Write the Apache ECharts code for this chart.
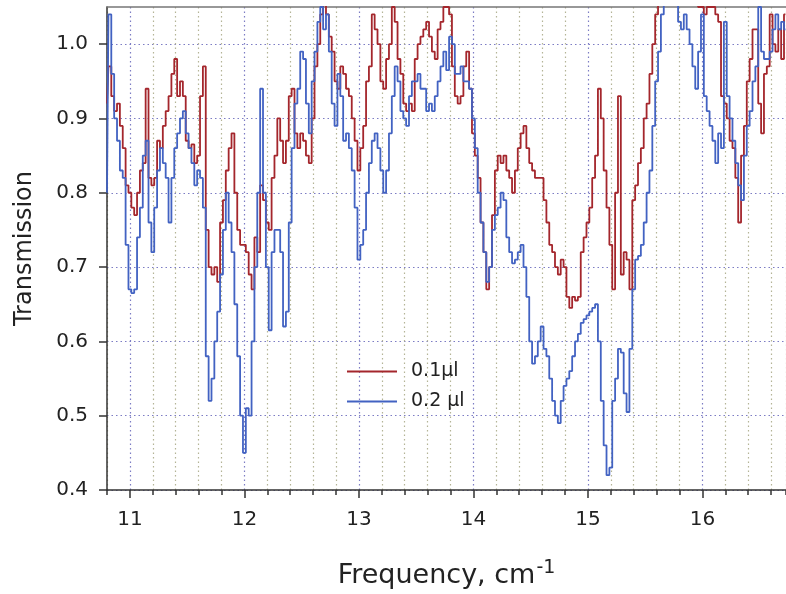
<!DOCTYPE html>
<html>
<head>
<meta charset="utf-8">
<script src="https://cdn.jsdelivr.net/npm/echarts@6/dist/echarts.min.js"></script>
<style>
  html, body { margin: 0; padding: 0; background: #ffffff; }
  #chart { width: 786px; height: 594px; }
</style>
</head>
<body>
<div id="chart"></div>
<script>
// Spectrum sampled every 0.025 cm^-1 starting at 10.8 cm^-1
const freqStart = 10.8;
const freqStep = 0.025;

// Transmission, 0.1 µl sample
const trans01 = [
  0.92, 0.97, 0.93, 0.91, 0.92, 0.89, 0.86, 0.81, 0.80, 0.78,
  0.77, 0.80, 0.83, 0.84, 0.94, 0.82, 0.81, 0.82, 0.87, 0.86,
  0.89, 0.91, 0.93, 0.96, 0.98, 0.93, 0.95, 0.93, 0.87, 0.86,
  0.865, 0.84, 0.85, 0.93, 0.97, 0.75, 0.70, 0.69, 0.70, 0.68,
  0.76, 0.79, 0.83, 0.86, 0.88, 0.80, 0.75, 0.73, 0.73, 0.72,
  0.69, 0.67, 0.74, 0.72, 0.81, 0.79, 0.76, 0.75, 0.82, 0.85,
  0.90, 0.87, 0.84, 0.87, 0.93, 0.94, 0.88, 0.86, 0.88, 0.87,
  0.85, 0.84, 0.90, 0.97, 1.00, 1.04, 1.06, 1.04, 1.01, 0.99,
  0.95, 0.94, 0.97, 0.96, 0.94, 0.93, 0.90, 0.87, 0.83, 0.86,
  0.89, 0.95, 0.97, 1.04, 1.02, 1.00, 0.95, 0.94, 0.98, 1.00,
  1.05, 1.03, 0.98, 0.96, 0.92, 0.91, 0.92, 0.91, 0.98, 1.00,
  1.01, 1.02, 1.03, 1.01, 0.99, 0.98, 1.02, 1.03, 1.05, 1.05,
  1.04, 0.97, 0.93, 0.92, 0.93, 0.97, 0.99, 0.94, 0.88, 0.85,
  0.82, 0.76, 0.72, 0.67, 0.70, 0.77, 0.83, 0.85, 0.84, 0.85,
  0.83, 0.82, 0.80, 0.83, 0.86, 0.88, 0.89, 0.86, 0.84, 0.83,
  0.82, 0.82, 0.82, 0.79, 0.76, 0.73, 0.72, 0.70, 0.69, 0.71,
  0.70, 0.66, 0.645, 0.66, 0.655, 0.66, 0.72, 0.74, 0.76, 0.78,
  0.82, 0.85, 0.94, 0.90, 0.83, 0.78, 0.73, 0.67, 0.80, 0.93,
  0.69, 0.72, 0.71, 0.67, 0.79, 0.81, 0.84, 0.86, 0.90, 0.92,
  0.96, 1.00, 1.04, 1.06, 1.07, 1.08, 1.07, 1.08, 1.07, 1.08,
  1.07, 1.08, 1.07, 1.06, 1.07, 1.06, 1.06, 1.05, 1.05, 1.04,
  1.05, 1.05, 1.05, 1.04, 1.03, 0.93, 0.92, 0.90, 0.87, 0.86,
  0.82, 0.76, 0.85, 0.89, 0.95, 0.98, 1.02, 1.02, 0.92, 0.88,
  0.96, 0.97, 1.04, 1.00, 0.99, 1.02, 0.98, 1.04
];

// Transmission, 0.2 µl sample
const trans02 = [
  0.80, 1.04, 0.96, 0.90, 0.87, 0.83, 0.82, 0.73, 0.67, 0.665,
  0.67, 0.74, 0.78, 0.85, 0.87, 0.76, 0.72, 0.78, 0.83, 0.86,
  0.84, 0.82, 0.76, 0.82, 0.86, 0.88, 0.90, 0.91, 0.88, 0.86,
  0.84, 0.81, 0.83, 0.82, 0.78, 0.58, 0.52, 0.55, 0.60, 0.64,
  0.69, 0.75, 0.80, 0.76, 0.72, 0.65, 0.58, 0.50, 0.45, 0.51,
  0.50, 0.60, 0.70, 0.80, 0.94, 0.80, 0.70, 0.615, 0.72, 0.75,
  0.75, 0.72, 0.62, 0.64, 0.76, 0.86, 0.92, 0.94, 0.99, 0.98,
  0.92, 0.88, 0.95, 0.99, 1.03, 1.05, 1.02, 1.04, 0.99, 0.92,
  0.89, 0.96, 0.93, 0.87, 0.88, 0.86, 0.83, 0.78, 0.71, 0.73,
  0.75, 0.80, 0.84, 0.87, 0.88, 0.86, 0.83, 0.80, 0.83, 0.88,
  0.93, 0.97, 0.95, 0.91, 0.90, 0.89, 0.93, 0.95, 0.95, 0.96,
  0.94, 0.94, 0.91, 0.92, 0.91, 0.93, 0.95, 0.97, 0.99, 0.965,
  1.01, 1.00, 0.96, 0.96, 0.97, 0.95, 0.95, 0.94, 0.90, 0.86,
  0.80, 0.76, 0.72, 0.68, 0.70, 0.75, 0.77, 0.78, 0.80, 0.79,
  0.74, 0.72, 0.705, 0.71, 0.72, 0.73, 0.70, 0.66, 0.60, 0.57,
  0.58, 0.60, 0.62, 0.59, 0.58, 0.55, 0.52, 0.50, 0.49, 0.52,
  0.54, 0.55, 0.56, 0.58, 0.60, 0.61, 0.625, 0.63, 0.635, 0.64,
  0.645, 0.65, 0.60, 0.52, 0.46, 0.42, 0.43, 0.52, 0.55, 0.59,
  0.585, 0.53, 0.505, 0.59, 0.67, 0.71, 0.715, 0.73, 0.76, 0.80,
  0.83, 0.89, 0.95, 0.99, 1.04, 1.06, 1.07, 1.07, 1.06, 1.06,
  1.03, 1.02, 1.04, 1.02, 1.00, 0.97, 0.94, 0.99, 1.04, 0.93,
  0.91, 0.89, 0.87, 0.84, 0.88, 0.86, 1.03, 0.93, 0.90, 0.87,
  0.84, 0.81, 0.79, 0.85, 0.89, 0.91, 0.95, 0.97, 1.05, 0.99,
  0.98, 0.98, 0.99, 1.02, 1.04, 1.02, 1.03, 1.02
];

// Axis labels
const xTickLabels = [11, 12, 13, 14, 15, 16];
const yTickLabels = [0.4, 0.5, 0.6, 0.7, 0.8, 0.9, 1.0];
const seriesNames = ['0.1\u00b5l', '0.2 \u00b5l'];

function toPairs(values) {
  return values.map(function (v, i) {
    return [+(freqStart + i * freqStep).toFixed(3), v];
  });
}

const FONT = 'DejaVu Sans';
const TEXT = '#222222';
const AXIS = '#333333';
const GRID_MAJOR = '#7c7cc4';
const GRID_MINOR = '#b4b496';
const xMin = 10.8, xMax = 16.73;

const chart = echarts.init(document.getElementById('chart'), null, { renderer: 'canvas' });

chart.setOption({
  animation: false,
  backgroundColor: '#ffffff',
  grid: { left: 107, right: 0, top: 7, bottom: 104, containLabel: false },
  legend: {
    data: seriesNames,
    orient: 'vertical',
    left: 342,
    top: 357,
    icon: 'rect',
    itemWidth: 50,
    itemHeight: 2,
    itemGap: 11,
    textStyle: { fontFamily: FONT, fontSize: 19, color: TEXT, padding: [0, 0, 0, 9] }
  },
  xAxis: [
    {
      // minor ticks and vertical grid every 0.2
      type: 'value', min: xMin, max: xMax, interval: 0.2,
      position: 'bottom',
      axisLine: { show: true, lineStyle: { color: AXIS, width: 1.5 } },
      axisTick: { show: true, inside: false, length: 5, lineStyle: { color: AXIS, width: 1.5 } },
      axisLabel: { show: false },
      splitLine: {
        show: true,
        lineStyle: {
          color: [GRID_MINOR, GRID_MAJOR, GRID_MINOR, GRID_MINOR, GRID_MINOR],
          type: [1.5, 3], width: 1.2
        }
      }
    },
    {
      // labelled integer ticks
      type: 'value', min: xMin, max: xMax,
      position: 'bottom',
      axisLine: { show: false },
      axisTick: { show: true, inside: false, length: 8, customValues: xTickLabels,
                  lineStyle: { color: AXIS, width: 1.5 } },
      axisLabel: { show: true, customValues: xTickLabels, margin: 20,
                   fontFamily: FONT, fontSize: 20, color: TEXT },
      splitLine: { show: false },
      name: '{a|Frequency, cm}{b|-1}',
      nameLocation: 'middle',
      nameGap: 69,
      nameTextStyle: {
        rich: {
          a: { fontFamily: FONT, fontSize: 27, color: TEXT },
          b: { fontFamily: FONT, fontSize: 19, color: TEXT, verticalAlign: 'bottom', padding: [0, 0, 14, 1] }
        }
      }
    },
    {
      // top frame
      type: 'value', min: xMin, max: xMax, position: 'top',
      axisLine: { show: true, lineStyle: { color: '#777777', width: 1.5 } },
      axisTick: { show: false }, axisLabel: { show: false }, splitLine: { show: false }
    }
  ],
  yAxis: {
    type: 'value', min: 0.4, max: 1.05, interval: 0.1,
    axisLine: { show: true, lineStyle: { color: AXIS, width: 1.5 } },
    axisTick: { show: true, inside: false, length: 8, customValues: yTickLabels,
                lineStyle: { color: AXIS, width: 1.5 } },
    axisLabel: {
      show: true, customValues: yTickLabels, margin: 19,
      fontFamily: FONT, fontSize: 20, color: TEXT,
      formatter: function (v) { return v.toFixed(1); }
    },
    splitLine: { show: true, lineStyle: { color: GRID_MAJOR, type: [1.5, 3], width: 1.2 } },
    name: 'Transmission',
    nameLocation: 'middle',
    nameGap: 70,
    nameTextStyle: { fontFamily: FONT, fontSize: 24, color: TEXT }
  },
  series: [
    {
      name: seriesNames[0], type: 'line', step: 'middle',
      xAxisIndex: 0, yAxisIndex: 0,
      data: toPairs(trans01), showSymbol: false, clip: true,
      lineStyle: { color: '#a4262c', width: 1.8 },
      itemStyle: { color: '#a4262c' }
    },
    {
      name: seriesNames[1], type: 'line', step: 'middle',
      xAxisIndex: 0, yAxisIndex: 0,
      data: toPairs(trans02), showSymbol: false, clip: true,
      lineStyle: { color: '#4262c2', width: 1.8 },
      itemStyle: { color: '#4262c2' }
    }
  ]
});
</script>
</body>
</html>
